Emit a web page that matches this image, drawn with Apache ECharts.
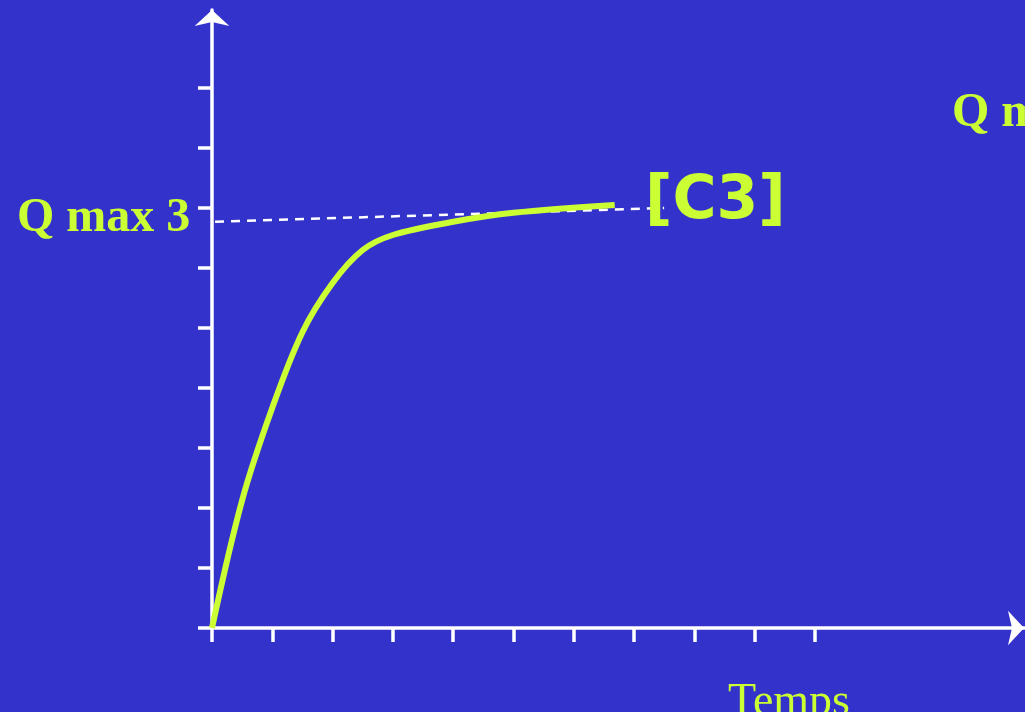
<!DOCTYPE html>
<html>
<head>
<meta charset="utf-8">
<script src="https://cdn.jsdelivr.net/npm/echarts@6/dist/echarts.min.js"></script>
<style>
html,body{margin:0;padding:0;background:#3333CC;}
#c{width:1025px;height:712px;}
</style>
</head>
<body>
<div id="c"></div>
<script>
// Data
const curveX = [0, 0.5, 1.0, 1.5, 2.0, 2.5, 3.0, 4.0, 5.0, 6.68];
const curveY = [0, 2.13, 3.67, 4.93, 5.75, 6.3, 6.55, 6.77, 6.92, 7.05];
const dashX = [0.05, 7.5];
const dashY = [6.77, 7.0];
const xTicks = [0, 1, 2, 3, 4, 5, 6, 7, 8, 9, 10];
const yTicks = [0, 1, 2, 3, 4, 5, 6, 7, 8, 9];
const labelLeft = 'Q max 3';
const labelRight = 'Q m';
const labelCurve = '[C3]';
const labelX = 'Temps';

const YEL = '#CCFF33';
const chart = echarts.init(document.getElementById('c'));
chart.setOption({
  backgroundColor: '#3333CC',
  animation: false,
  grid: { left: 212, top: 10, width: 812, height: 618, containLabel: false },
  xAxis: {
    type: 'value', min: 0, max: 13.47, interval: 1,
    splitLine: { show: false },
    axisLabel: { show: false },
    axisLine: { show: true, onZero: false, lineStyle: { color: '#fff', width: 3.5 },
      symbol: ['none', 'arrow'], symbolSize: [26, 16] },
    axisTick: { show: true, inside: false, length: 14, customValues: xTicks,
      lineStyle: { color: '#fff', width: 3.5 } }
  },
  yAxis: {
    type: 'value', min: 0, max: 10.3, interval: 1,
    splitLine: { show: false },
    axisLabel: { show: false },
    axisLine: { show: true, onZero: false, lineStyle: { color: '#fff', width: 3.5 },
      symbol: ['none', 'arrow'], symbolSize: [26, 16] },
    axisTick: { show: true, inside: false, length: 14, customValues: yTicks,
      lineStyle: { color: '#fff', width: 3.5 } }
  },
  series: [
    {
      type: 'line', data: dashX.map((x, i) => [x, dashY[i]]),
      showSymbol: false, silent: true,
      lineStyle: { color: '#fff', width: 2.5, type: [9, 7] }, z: 3
    },
    {
      type: 'line', data: curveX.map((x, i) => [x, curveY[i]]),
      smooth: 0.35, showSymbol: false, silent: true,
      lineStyle: { color: YEL, width: 6, cap: 'butt' }, z: 4
    }
  ],
  graphic: [
    { type: 'text', left: 17, top: 195, z: 10,
      style: { text: labelLeft, font: 'bold 48px "Liberation Serif"', fill: YEL } },
    { type: 'text', left: 952, top: 90, z: 10,
      style: { text: labelRight, font: 'bold 48px "Liberation Serif"', fill: YEL } },
    { type: 'text', left: 645, top: 172, z: 10,
      style: { text: labelCurve, font: 'bold 60px "DejaVu Sans"', fill: YEL } },
    { type: 'text', left: 728, top: 680, z: 10,
      style: { text: labelX, font: '46px "Liberation Serif"', fill: YEL } }
  ]
});
</script>
</body>
</html>
